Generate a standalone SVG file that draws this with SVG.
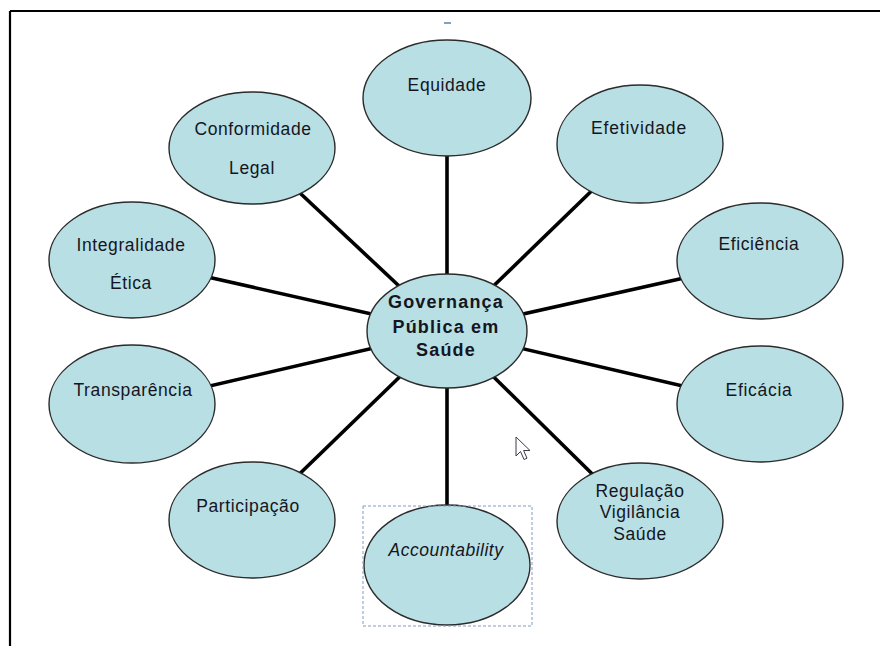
<svg xmlns="http://www.w3.org/2000/svg" width="880" height="646" viewBox="0 0 880 646">
  <style>
    .node ellipse { fill: #b8dfe3; stroke: #2b2b2b; stroke-width: 1.4; }
    .node text { font-family: "Liberation Sans", Arial, sans-serif; font-size: 17.5px; fill: #15151f; text-anchor: middle; letter-spacing: 0.6px; }
    #hub text { font-weight: bold; font-size: 18px; letter-spacing: 1.2px; }
    #accountability text { font-style: italic; letter-spacing: 0.5px; }
    .links line { stroke: #000; stroke-width: 3.6; stroke-linecap: butt; }
  </style>

  <!-- page frame -->
  <rect x="0" y="0" width="880" height="646" fill="#fff"/>
  <path d="M10 11 H880 M10 11 V646" fill="none" stroke="#000" stroke-width="2.2"/>
  <line x1="444" y1="23" x2="451" y2="23" stroke="#5a7fb5" stroke-width="1.5"/>

  <!-- spokes from the hub to every node -->
  <g class="links" id="connectors">
    <line x1="447" y1="331" x2="447" y2="98"/>
    <line x1="447" y1="331" x2="252" y2="148"/>
    <line x1="447" y1="331" x2="640" y2="144"/>
    <line x1="447" y1="331" x2="132" y2="260"/>
    <line x1="447" y1="331" x2="760" y2="261"/>
    <line x1="447" y1="331" x2="132" y2="404"/>
    <line x1="447" y1="331" x2="760" y2="404"/>
    <line x1="447" y1="331" x2="252" y2="520"/>
    <line x1="447" y1="331" x2="640" y2="521"/>
    <line x1="447" y1="331" x2="447" y2="565"/>
  </g>

  <g class="node" id="equidade">
    <ellipse cx="447" cy="98" rx="84" ry="58"/>
    <text x="447" y="91">Equidade</text>
  </g>
  <g class="node" id="conformidade">
    <ellipse cx="252" cy="148" rx="83" ry="56"/>
    <text x="253" y="135">Conformidade</text>
    <text x="252" y="174">Legal</text>
  </g>
  <g class="node" id="efetividade">
    <ellipse cx="640" cy="144" rx="83" ry="59"/>
    <text x="639" y="134" style="letter-spacing:0.85px">Efetividade</text>
  </g>
  <g class="node" id="integralidade">
    <ellipse cx="132" cy="260" rx="83" ry="58"/>
    <text x="131" y="251">Integralidade</text>
    <text x="131" y="289">Ética</text>
  </g>
  <g class="node" id="eficiencia">
    <ellipse cx="760" cy="261" rx="83" ry="58"/>
    <text x="759" y="250">Eficiência</text>
  </g>
  <g class="node" id="transparencia">
    <ellipse cx="132" cy="404" rx="83" ry="59"/>
    <text x="133" y="396">Transparência</text>
  </g>
  <g class="node" id="eficacia">
    <ellipse cx="760" cy="404" rx="83" ry="58"/>
    <text x="759" y="396" style="letter-spacing:0.7px">Eficácia</text>
  </g>
  <g class="node" id="participacao">
    <ellipse cx="252" cy="520" rx="83" ry="58"/>
    <text x="248" y="512">Participação</text>
  </g>
  <g class="node" id="regulacao">
    <ellipse cx="640" cy="521" rx="83" ry="58"/>
    <text x="640" y="497">Regulação</text>
    <text x="640" y="518">Vigilância</text>
    <text x="640" y="540">Saúde</text>
  </g>
  <g class="node" id="accountability">
    <ellipse cx="447" cy="565" rx="83" ry="60"/>
    <text x="446" y="556">Accountability</text>
    <rect x="363" y="506" width="169" height="120" fill="none" stroke="#7f9cc0" stroke-width="1" stroke-dasharray="3 2"/>
  </g>
  <g class="node" id="hub">
    <ellipse cx="447" cy="331" rx="80" ry="57"/>
    <text x="446" y="308">Governança</text>
    <text x="446" y="333">Pública em</text>
    <text x="446" y="356">Saúde</text>
  </g>

  <!-- mouse pointer -->
  <path d="M516 437 L516 456 L520.5 451.5 L524 459.5 L527 458.2 L523.6 450.5 L530 450.5 Z" fill="#fff" stroke="#3a3a4a" stroke-width="1" stroke-linejoin="round"/>
</svg>
